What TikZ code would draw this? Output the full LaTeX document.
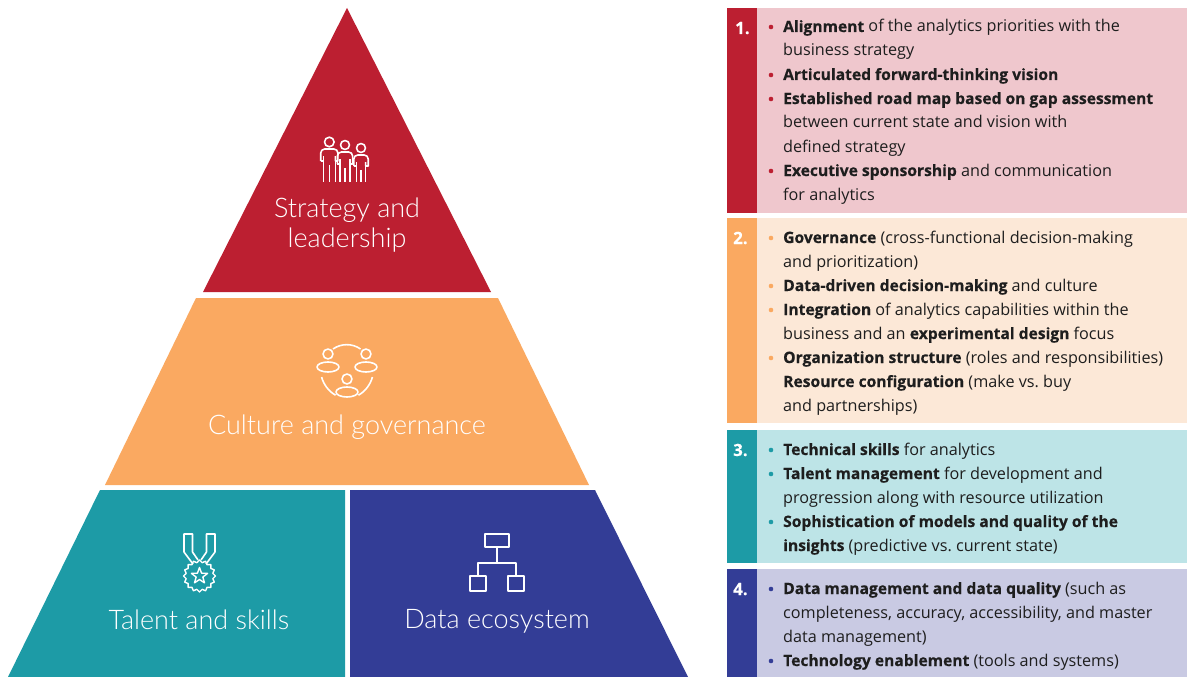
\documentclass[tikz,border=0pt]{standalone}
\usepackage{fontspec}
\setmainfont{Open Sans}[BoldFeatures={FakeBold=0.35,Scale=0.965}]
\newfontfamily\labelfont{Lato Light}
\frenchspacing
\definecolor{cRed}{HTML}{BC1F31}
\definecolor{cOrange}{HTML}{FAA961}
\definecolor{cTeal}{HTML}{1D9BA6}
\definecolor{cBlue}{HTML}{333D96}
\definecolor{lRed}{HTML}{EFC7CD}
\definecolor{lOrange}{HTML}{FCE8D7}
\definecolor{lTeal}{HTML}{BDE4E7}
\definecolor{lBlue}{HTML}{C9CAE3}
\definecolor{txt}{HTML}{1E1E1E}
\tikzset{
  x=1pt,y=-1pt,
  icon/.style={draw=white,line width=1.6pt,line join=round,fill=none},
  plabel/.style={text=white,font=\labelfont\fontsize{27}{30}\selectfont,anchor=base,inner sep=0pt},
  tline/.style={anchor=base west,inner sep=0pt,text=txt,font=\fontsize{16.2}{18}\selectfont},
  num/.style={anchor=base west,inner sep=0pt,text=white,font=\bfseries\fontsize{17.5}{18}\selectfont},
}
\newcommand{\person}[6]{% cx, heady, r, shouldertop, halfw, armbottom
  \draw[icon] (#1,#2) circle[radius=#3];
  \draw[icon] (#1-#5,#6) -- (#1-#5,#4+4) arc[start angle=180,end angle=270,radius=4] -- (#1+#5-4,#4) arc[start angle=270,end angle=360,radius=4] -- (#1+#5,#6) -- (#1+#5-2.6,#6) -- (#1+#5-2.6,#4+7);
  \draw[icon] (#1-#5,#6) -- (#1-#5+2.6,#6) -- (#1-#5+2.6,#4+7);
  \draw[icon] (#1-#5+2.6,#6) -- (#1-#5+2.6,182);
  \draw[icon] (#1+#5-2.6,#6) -- (#1+#5-2.6,182);
  \draw[icon] (#1,#6+4) -- (#1,182);
}
\begin{document}
\begin{tikzpicture}
\useasboundingbox (0,0) rectangle (1187,677);
\fill[white] (0,0) rectangle (1187,677);
% pyramid
\fill[cRed] (347,8) -- (491,292) -- (203,292) -- cycle;
\fill[cOrange] (196,298) -- (498,298) -- (589,485) -- (105,485) -- cycle;
\fill[cTeal] (100,490) -- (345,490) -- (345,677) -- (8,677) -- cycle;
\fill[cBlue] (350,490) -- (595,490) -- (688,677) -- (350,677) -- cycle;
\node[plabel] (l1a) at (347,217) {Strategy and};
\node[plabel] (l1b) at (347,247) {leadership};
\node[plabel] (l2) at (347,434) {Culture and governance};
\node[plabel] (l3) at (199,629) {Talent and skills};
\node[plabel] (l4) at (497,628) {Data ecosystem};
% people icon
\person{329.3}{142}{4.8}{149}{8.6}{161}
\person{345}{145}{4.5}{152}{7.6}{164}
\person{361}{148}{4.5}{155}{7.2}{166}
% culture icon
\draw[icon] (333,349) arc[start angle=-125,end angle=-55,radius=24];
\draw[icon] (321.6,377) arc[start angle=165,end angle=120,radius=30];
\draw[icon] (372.4,377) arc[start angle=15,end angle=60,radius=30];
\draw[icon] (328,354) circle[radius=5];
\draw[icon] (366,354) circle[radius=5];
\draw[icon] (347,379) circle[radius=5];
\draw[icon] (328,367) ellipse[x radius=11,y radius=5];
\draw[icon] (366,367) ellipse[x radius=11,y radius=5];
\draw[icon] (347,392) ellipse[x radius=11,y radius=5];
% medal
\draw[icon] (193,564) -- (184,552) -- (184,534) -- (192.5,534) -- (192.5,552) -- (198,560);
\draw[icon] (206,564) -- (215,552) -- (215,534) -- (206.5,534) -- (206.5,552) -- (201,560);
\draw[icon,line width=1.4pt] plot[samples at={0,11.25,...,348.75},variable=\a] ({199.5+(16-2.4*mod(round(\a/11.25),2))*cos(\a)},{576-(16-2.4*mod(round(\a/11.25),2))*sin(\a)}) -- cycle;
\draw[icon,line width=1.4pt] plot[samples at={90,126,...,414},variable=\a] ({199.5+(8.5-5*mod(round((\a-90)/36),2))*cos(\a)},{576-(8.5-5*mod(round((\a-90)/36),2))*sin(\a)}) -- cycle;
% org icon
\draw[icon] (485,534) rectangle (509,547);
\draw[icon] (470,576) rectangle (486,591);
\draw[icon] (508,576) rectangle (524,591);
\draw[icon] (497,547) -- (497,563);
\draw[icon] (478,576) -- (478,563) -- (516,563) -- (516,576);
% panels
\fill[lRed] (757,8) rectangle (1187,213);
\fill[cRed] (727,8) rectangle (757,213);
\fill[lOrange] (757,218) rectangle (1187,423);
\fill[cOrange] (727,218) rectangle (757,423);
\fill[lTeal] (757,430) rectangle (1187,563);
\fill[cTeal] (727,430) rectangle (757,563);
\fill[lBlue] (757,569) rectangle (1187,677);
\fill[cBlue] (727,569) rectangle (757,677);
\node[num] (n1) at (735,34) {1.};
\node[num] (n2) at (733,244) {2.};
\node[num] (n3) at (733,456) {3.};
\node[num] (n4) at (733,595) {4.};
% bullets
\foreach \y in {27,75,99,171} \fill[cRed] (771,\y) circle[radius=2.3];
\foreach \y in {238,286,310,358} \fill[cOrange] (771,\y) circle[radius=2.3];
\foreach \y in {450,474,522} \fill[cTeal] (771,\y) circle[radius=2.3];
\foreach \y in {589,661} \fill[cBlue] (771,\y) circle[radius=2.3];
% panel 1
\node[tline] (a1) at (783,32) {\textbf{Alignment} of the analytics priorities with the};
\node[tline] (a2) at (783,56) {business strategy};
\node[tline] (a3) at (783,80) {\textbf{Articulated forward-thinking vision}};
\node[tline] (a4) at (783,104) {\textbf{Established road map based on gap assessment}};
\node[tline] (a5) at (783,128) {between current state and vision with};
\node[tline] (a6) at (783,152) {defined strategy};
\node[tline] (a7) at (783,176) {\textbf{Executive sponsorship} and communication};
\node[tline] (a8) at (783,200) {for analytics};
% panel 2
\node[tline] (b1) at (783,243) {\textbf{Governance} (cross-functional decision-making};
\node[tline] (b2) at (783,267) {and prioritization)};
\node[tline] (b3) at (783,291) {\textbf{Data-driven decision-making} and culture};
\node[tline] (b4) at (783,315) {\textbf{Integration} of analytics capabilities within the};
\node[tline] (b5) at (783,339) {business and an \textbf{experimental design} focus};
\node[tline] (b6) at (783,363) {\textbf{Organization structure} (roles and responsibilities)};
\node[tline] (b7) at (783,387) {\textbf{Resource configuration} (make vs. buy};
\node[tline] (b8) at (783,411) {and partnerships)};
% panel 3
\node[tline] (c1) at (783,455) {\textbf{Technical skills} for analytics};
\node[tline] (c2) at (783,479) {\textbf{Talent management} for development and};
\node[tline] (c3) at (783,503) {progression along with resource utilization};
\node[tline] (c4) at (783,527) {\textbf{Sophistication of models and quality of the}};
\node[tline] (c5) at (783,551) {\textbf{insights} (predictive vs. current state)};
% panel 4
\node[tline] (d1) at (783,594) {\textbf{Data management and data quality} (such as};
\node[tline] (d2) at (783,618) {completeness, accuracy, accessibility, and master};
\node[tline] (d3) at (783,642) {data management)};
\node[tline] (d4) at (783,666) {\textbf{Technology enablement} (tools and systems)};
\end{tikzpicture}
\end{document}
